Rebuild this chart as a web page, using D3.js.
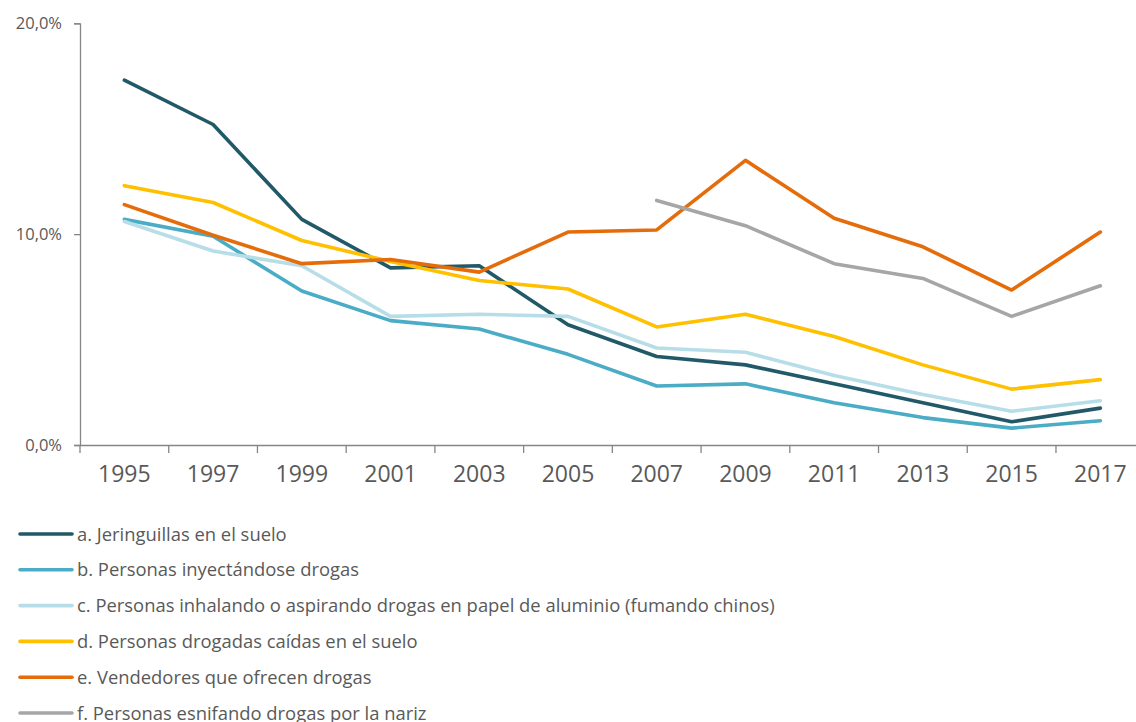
<!DOCTYPE html>
<html><head><meta charset="utf-8">
<script src="https://cdn.jsdelivr.net/npm/d3@7"></script>
<style>html,body{margin:0;padding:0;background:#fff;overflow:hidden}</style>
</head><body>
<svg id="c" width="1136" height="722"></svg>
<script>
const years = ["1995","1997","1999","2001","2003","2005","2007","2009","2011","2013","2015","2017"];
const seriesNames = [
  "a. Jeringuillas en el suelo",
  "b. Personas inyectándose drogas",
  "c. Personas inhalando o aspirando drogas en papel de aluminio (fumando chinos)",
  "d. Personas drogadas caídas en el suelo",
  "e. Vendedores que ofrecen drogas",
  "f. Personas esnifando drogas por la nariz"
];
const seriesA = [17.3, 15.2, 10.7, 8.4, 8.5, 5.7, 4.2, 3.8, 2.9, 2.0, 1.1, 1.75];
const seriesB = [10.7, 9.9, 7.3, 5.9, 5.5, 4.3, 2.8, 2.9, 2.0, 1.3, 0.8, 1.15];
const seriesC = [10.6, 9.2, 8.5, 6.1, 6.2, 6.1, 4.6, 4.4, 3.3, 2.4, 1.6, 2.1];
const seriesD = [12.3, 11.5, 9.7, 8.7, 7.8, 7.4, 5.6, 6.2, 5.15, 3.8, 2.65, 3.1];
const seriesE = [11.4, 9.95, 8.6, 8.8, 8.2, 10.1, 10.2, 13.5, 10.75, 9.4, 7.35, 10.1];
const seriesF = [null, null, null, null, null, null, 11.6, 10.4, 8.6, 7.9, 6.1, 7.55];
const yTicks = [0, 10, 20];
const colors = ["#215968", "#4bacc6", "#b7dee8", "#ffc000", "#e46c0a", "#a6a6a6"];

const allSeries = [seriesA, seriesB, seriesC, seriesD, seriesE, seriesF];
const svg = d3.select("#c");
const mLeft = 80, mRight = 1144.7, mTop = 23.3, mBottom = 445;
const x = d3.scaleBand().domain(years).range([mLeft, mRight]);
const y = d3.scaleLinear().domain([0, 20]).range([mBottom, mTop]);
const axisColor = "#868686";
const textColor = "#595959";
const font = "'Open Sans', sans-serif";

// Y axis
const ya = svg.append("g").attr("transform", `translate(${mLeft},0)`)
  .call(d3.axisLeft(y).tickValues(yTicks).tickSize(6).tickPadding(12)
    .tickFormat(d => d.toFixed(1).replace(".", ",") + "%"));
ya.select(".domain").attr("stroke", axisColor).attr("stroke-width", 1.3);
ya.selectAll(".tick line").attr("stroke", axisColor).attr("stroke-width", 1.3);
ya.selectAll("text").attr("fill", textColor).style("font-family", font).style("font-size", "16.5px");

// X axis
const xa = svg.append("g").attr("transform", `translate(0,${mBottom})`)
  .call(d3.axisBottom(x).tickSize(0).tickPadding(21));
xa.select(".domain").attr("stroke", axisColor).attr("stroke-width", 1.3);
xa.selectAll("text").attr("fill", textColor).style("font-family", font).style("font-size", "23px");
const bounds = years.map(d => x(d)).concat([mRight]);
xa.selectAll(".sep").data(bounds).enter().append("line").attr("class", "sep")
  .attr("x1", d => d).attr("x2", d => d).attr("y1", 0).attr("y2", 8)
  .attr("stroke", axisColor).attr("stroke-width", 1.3);

// lines
const line = d3.line()
  .defined(d => d.v !== null)
  .x(d => x(d.year) + x.bandwidth() / 2)
  .y(d => y(d.v));
allSeries.forEach((s, i) => {
  const data = years.map((yr, j) => ({year: yr, v: s[j]}));
  svg.append("path").datum(data)
    .attr("fill", "none").attr("stroke", colors[i]).attr("stroke-width", 3.6)
    .attr("stroke-linejoin", "round").attr("stroke-linecap", "round")
    .attr("d", line);
});

// legend
const lg = svg.append("g");
seriesNames.forEach((name, i) => {
  const yy = 534 + i * 35.8;
  lg.append("line").attr("x1", 20).attr("x2", 72).attr("y1", yy).attr("y2", yy)
    .attr("stroke", colors[i]).attr("stroke-width", 3.6).attr("stroke-linecap", "round");
  lg.append("text").attr("x", 77).attr("y", yy + 6.5).text(name)
    .attr("fill", textColor).style("font-family", font).style("font-size", "18.4px");
});
</script>
</body></html>
